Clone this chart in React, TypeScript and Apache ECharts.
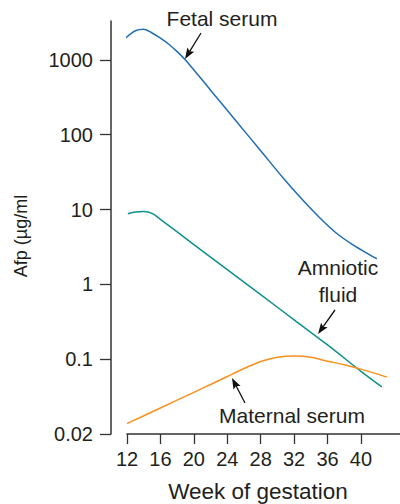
import React, { useEffect, useRef } from "react";
import * as echarts from "echarts";

// Week of gestation (x) and Afp (µg/ml) values
const fetalWeeks = [11.8, 13, 14, 15, 16, 17, 18, 19, 22, 25, 28, 31, 33, 35, 37, 39, 41, 41.9];
const fetalSerum = [1950, 2450, 2570, 2290, 1950, 1620, 1290, 1000, 394, 155, 61, 24, 13.5, 7.9, 4.9, 3.4, 2.5, 2.2];

const amnioticWeeks = [12.1, 13, 14, 15, 16, 20, 24, 28, 32, 36, 40, 42.5];
const amnioticFluid = [8.8, 9.3, 9.4, 8.9, 7.4, 3.4, 1.57, 0.73, 0.335, 0.155, 0.077, 0.055];

const maternalWeeks = [12, 16, 20, 22, 24, 26, 28, 30, 32, 34, 36, 38, 40, 42, 43.1];
const maternalSerum = [0.025, 0.035, 0.049, 0.058, 0.0689, 0.0818, 0.095, 0.106, 0.11, 0.106, 0.0958, 0.0889, 0.0807, 0.0725, 0.068];

const xTicks = [12, 16, 20, 24, 28, 32, 36, 40];
const yTickPositions = [-2, -1, 0, 1, 2, 3];
const yTickLabels = ["0.02", "0.1", "1", "10", "100", "1000"];

// The figure's axis: one decade per step above 0.1, and 0.02..0.1 drawn as one step
const toPos = (v: number) => (v >= 0.1 ? Math.log10(v) : -1 - Math.log10(0.1 / v) / Math.log10(5));

const FONT = "'Liberation Sans', Arial, Helvetica, sans-serif";
const TEXT = "#231f20";
const AXIS = "#333333";

function arrow(x1: number, y1: number, x2: number, y2: number) {
  const dx = x2 - x1;
  const dy = y2 - y1;
  const len = Math.sqrt(dx * dx + dy * dy);
  const ux = dx / len;
  const uy = dy / len;
  const headL = 11;
  const headW = 4;
  const bx = x2 - ux * headL;
  const by = y2 - uy * headL;
  return [
    {
      type: "line",
      shape: { x1, y1, x2: bx + ux * 2, y2: by + uy * 2 },
      style: { stroke: "#111", lineWidth: 1.3 },
      silent: true,
    },
    {
      type: "polygon",
      shape: {
        points: [
          [x2, y2],
          [bx - uy * headW, by + ux * headW],
          [bx + ux * 2, by + uy * 2],
          [bx + uy * headW, by - ux * headW],
        ],
      },
      style: { fill: "#111" },
      silent: true,
    },
  ];
}

export default function App() {
  const ref = useRef<HTMLDivElement>(null);
  useEffect(() => {
    if (!ref.current) return;
    const chart = echarts.init(ref.current, null, { renderer: "svg" });
    const mk = (w: number[], v: number[]) => w.map((x, i) => [x, toPos(v[i])]);
    const option: any = {
      animation: false,
      backgroundColor: "#ffffff",
      textStyle: { fontFamily: FONT },
      grid: { left: 127, right: 0, top: 21, bottom: 70, containLabel: false, outerBoundsMode: "none" },
      xAxis: {
        type: "value",
        min: 12,
        max: 44.67,
        interval: 4,
        name: "Week of gestation",
        nameLocation: "middle",
        nameGap: 46,
        nameTextStyle: { fontSize: 22.5, color: TEXT, fontFamily: FONT, padding: [0, 11, 0, 0] },
        axisLine: { show: true, onZero: false, lineStyle: { color: AXIS, width: 1.5 } },
        axisTick: { show: true, length: 10, lineStyle: { color: AXIS, width: 1.3 }, customValues: xTicks },
        axisLabel: { fontSize: 20, color: TEXT, fontFamily: FONT, margin: 15, customValues: xTicks },
        splitLine: { show: false },
      },
      yAxis: {
        type: "value",
        min: -2,
        max: 3.52,
        offset: 16,
        axisLine: { show: true, onZero: false, lineStyle: { color: AXIS, width: 1.5 } },
        axisTick: { show: true, length: 11, lineStyle: { color: AXIS, width: 1.3 }, customValues: yTickPositions },
        axisLabel: {
          fontSize: 20,
          color: TEXT,
          fontFamily: FONT,
          margin: 18,
          customValues: yTickPositions,
          formatter: (val: number) => {
            const i = yTickPositions.indexOf(Math.round(val));
            return i >= 0 ? yTickLabels[i] : "";
          },
        },
        splitLine: { show: false },
      },
      series: [
        {
          name: "Fetal serum",
          type: "line",
          data: mk(fetalWeeks, fetalSerum),
          smooth: 0.3,
          showSymbol: false,
          clip: false,
          lineStyle: { color: "#1f6db3", width: 1.5 },
        },
        {
          name: "Amniotic fluid",
          type: "line",
          data: mk(amnioticWeeks, amnioticFluid),
          smooth: 0.3,
          showSymbol: false,
          clip: false,
          lineStyle: { color: "#0f908a", width: 1.5 },
        },
        {
          name: "Maternal serum",
          type: "line",
          data: mk(maternalWeeks, maternalSerum),
          smooth: 0.3,
          showSymbol: false,
          clip: false,
          lineStyle: { color: "#f7901e", width: 1.5 },
        },
      ],
      graphic: [
        {
          type: "text",
          x: 21,
          y: 236,
          rotation: Math.PI / 2,
          style: { text: "Afp (µg/ml", fontSize: 18, fill: TEXT, fontFamily: FONT, align: "center", verticalAlign: "middle" },
        },
        {
          type: "text",
          x: 222,
          y: 18,
          style: { text: "Fetal serum", fontSize: 21, fill: TEXT, fontFamily: FONT, align: "center", verticalAlign: "middle" },
        },
        {
          type: "text",
          x: 338,
          y: 281,
          style: { text: "Amniotic\nfluid", fontSize: 21, lineHeight: 27, fill: TEXT, fontFamily: FONT, align: "center", verticalAlign: "middle" },
        },
        {
          type: "text",
          x: 292,
          y: 415,
          style: { text: "Maternal serum", fontSize: 21, fill: TEXT, fontFamily: FONT, align: "center", verticalAlign: "middle" },
        },
        ...arrow(201, 33, 185, 59),
        ...arrow(335, 310, 318, 334),
        ...arrow(245, 403, 232, 378),
      ],
    };
    chart.setOption(option);
    return () => chart.dispose();
  }, []);
  return (
    <div
      ref={ref}
      style={{ position: "fixed", left: 0, top: 0, width: 400, height: 504, background: "#fff" }}
    />
  );
}
